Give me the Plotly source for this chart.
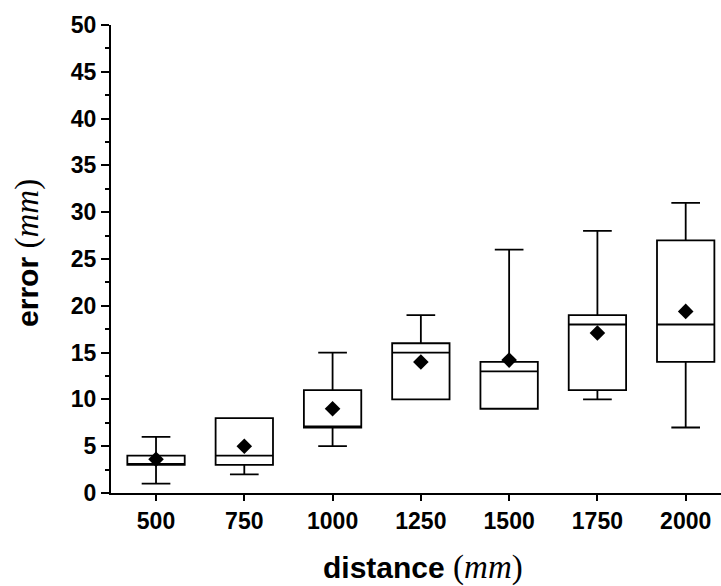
import plotly.graph_objects as go

# Distance categories and box statistics of the measured error (mm)
distances = ["500", "750", "1000", "1250", "1500", "1750", "2000"]
err_min = [1, 2, 5, 10, 9, 10, 7]
err_q1 = [3, 3, 7, 10, 9, 11, 14]
err_median = [3, 4, 7, 15, 13, 18, 18]
err_q3 = [4, 8, 11, 16, 14, 19, 27]
err_max = [6, 8, 15, 19, 26, 28, 31]
err_mean = [3.6, 5.0, 9.0, 14.0, 14.2, 17.1, 19.4]

positions = list(range(len(distances)))

fig = go.Figure()

fig.add_trace(go.Box(
    x=positions,
    q1=err_q1,
    median=err_median,
    q3=err_q3,
    lowerfence=err_min,
    upperfence=err_max,
    width=0.65,
    whiskerwidth=0.5,
    fillcolor="white",
    line=dict(color="black", width=1.8),
    boxpoints=False,
    showlegend=False,
    hoverinfo="skip",
))

fig.add_trace(go.Scatter(
    x=positions,
    y=err_mean,
    mode="markers",
    marker=dict(symbol="diamond", size=12, color="black"),
    showlegend=False,
))

label_font = "Liberation Sans, Arial, sans-serif"
unit = "<span style=\"font-family:'Liberation Serif'; font-size:33px\">(<i>mm</i>)</span>"

fig.update_layout(
    width=721,
    height=586,
    margin=dict(l=111, r=0, t=25, b=93),
    plot_bgcolor="white",
    paper_bgcolor="white",
    font=dict(family=label_font, color="black"),
    xaxis=dict(
        range=[-0.51, 6.40],
        tickvals=positions,
        ticktext=distances,
        showgrid=False,
        zeroline=False,
        showline=True,
        linecolor="black",
        linewidth=2,
        ticks="outside",
        ticklen=6,
        tickwidth=1.5,
        tickcolor="black",
        tickfont=dict(size=23, family=label_font, weight="bold"),
    ),
    yaxis=dict(
        range=[0, 50],
        tickvals=[0, 5, 10, 15, 20, 25, 30, 35, 40, 45, 50],
        showgrid=False,
        zeroline=False,
        showline=True,
        linecolor="black",
        linewidth=2,
        ticks="outside",
        ticklen=8,
        tickwidth=1.5,
        tickcolor="black",
        tickfont=dict(size=23, family=label_font, weight="bold"),
        minor=dict(dtick=2.5, tick0=0, ticks="outside", ticklen=4, tickwidth=1.5, tickcolor="black", showgrid=False),
    ),
    annotations=[
        dict(
            text="<b>distance </b>" + unit,
            xref="paper", yref="paper",
            x=0.511, y=-0.160,
            xanchor="center", yanchor="middle",
            showarrow=False,
            font=dict(size=30, family=label_font),
        ),
        dict(
            text="<b>error </b>" + unit,
            xref="paper", yref="paper",
            x=0, xshift=-83, y=0.513,
            xanchor="center", yanchor="middle",
            textangle=-90,
            showarrow=False,
            font=dict(size=30, family=label_font),
        ),
    ],
)

fig.write_html("out.html")
